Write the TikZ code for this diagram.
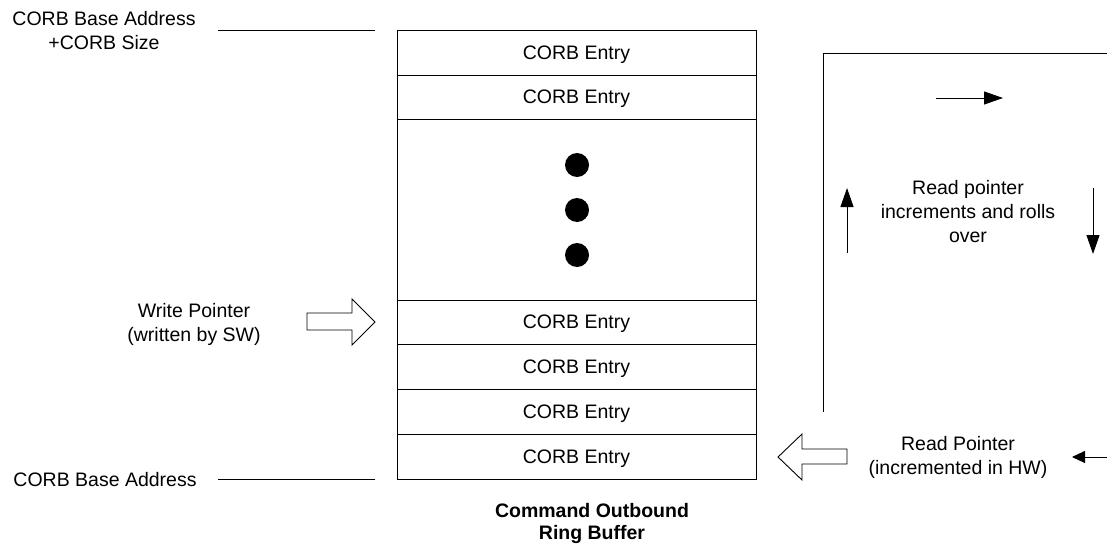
\documentclass[tikz,border=0pt]{standalone}
\usepackage{fontspec}
\setmainfont{Liberation Sans}
\usetikzlibrary{arrows.meta}
\begin{document}
\begin{tikzpicture}[x=1pt,y=-1pt, line width=1pt,
  entry/.style={draw, rectangle, minimum width=359pt, inner sep=0pt, outer sep=0pt, text depth=0pt, font=\fontsize{19.5}{24}\selectfont},
  lbl/.style={align=center, inner sep=0pt, font=\fontsize{19.5}{24}\selectfont},
  captext/.style={align=center, inner sep=0pt, font=\fontsize{19.5}{22}\selectfont\bfseries},
  bigdot/.style={circle, fill=black, inner sep=0pt, minimum size=24pt},
  hollow/.style={draw, fill=white, line width=0.9pt, line join=miter},
  arr/.style={-{Triangle[length=19pt,width=13pt]}},
  arrs/.style={-{Triangle[length=13pt,width=12pt]}}
]
\useasboundingbox (0,0) rectangle (1107,543);

% ring buffer entries
\node[entry, minimum height=44pt] (e1) at (576.5,53) {CORB Entry};
\node[entry, minimum height=44pt] (e2) at (576.5,97) {CORB Entry};
\node[entry, minimum height=181pt] (gap) at (576.5,209.5) {};
\node[entry, minimum height=44pt] (e3) at (576.5,322) {CORB Entry};
\node[entry, minimum height=45pt] (e4) at (576.5,366.5) {CORB Entry};
\node[entry, minimum height=45pt] (e5) at (576.5,411.5) {CORB Entry};
\node[entry, minimum height=45pt] (e6) at (576.5,456.5) {CORB Entry};

\node[bigdot] (d1) at (577,165) {};
\node[bigdot] (d2) at (577,210) {};
\node[bigdot] (d3) at (577,255) {};

% address labels
\node[lbl] (top) at (104,31) {CORB Base Address\\+CORB Size};
\coordinate (t1) at (218,31);
\coordinate (t2) at (375,31);
\draw (t1) -- (t2);

\node[lbl] (base) at (105,480) {CORB Base Address};
\coordinate (b1) at (218,479);
\coordinate (b2) at (375,479);
\draw (b1) -- (b2);

% write pointer
\node[lbl] (wp) at (194,324) {Write Pointer\\(written by SW)};
\draw[hollow] (307,313) -- (352,313) -- (352,299) -- (375,322) -- (352,345) -- (352,330) -- (307,330) -- cycle;

% read pointer
\node[lbl] (rp) at (958,457) {Read Pointer\\(incremented in HW)};
\draw[hollow] (778,457) -- (802,434) -- (802,449) -- (847,449) -- (847,464) -- (802,464) -- (802,480) -- cycle;
\coordinate (s1) at (1107,457);
\coordinate (s2) at (1072,457);
\draw[arrs] (s1) -- (s2);

% roll-over loop
\coordinate (L1) at (823,412);
\coordinate (L2) at (823,54);
\coordinate (L3) at (1107,54);
\draw (L1) -- (L2) -- (L3);

\coordinate (r1) at (936,98);
\coordinate (r2) at (1003,98);
\draw[arr] (r1) -- (r2);
\coordinate (u1) at (847,253);
\coordinate (u2) at (847,188);
\draw[arr] (u1) -- (u2);
\coordinate (w1) at (1093,188);
\coordinate (w2) at (1093,254);
\draw[arr] (w1) -- (w2);

\node[lbl] (roll) at (968,212) {Read pointer\\increments and rolls\\over};

% caption
\node[captext] (caption) at (592,523) {Command Outbound\\Ring Buffer};
\end{tikzpicture}
\end{document}
